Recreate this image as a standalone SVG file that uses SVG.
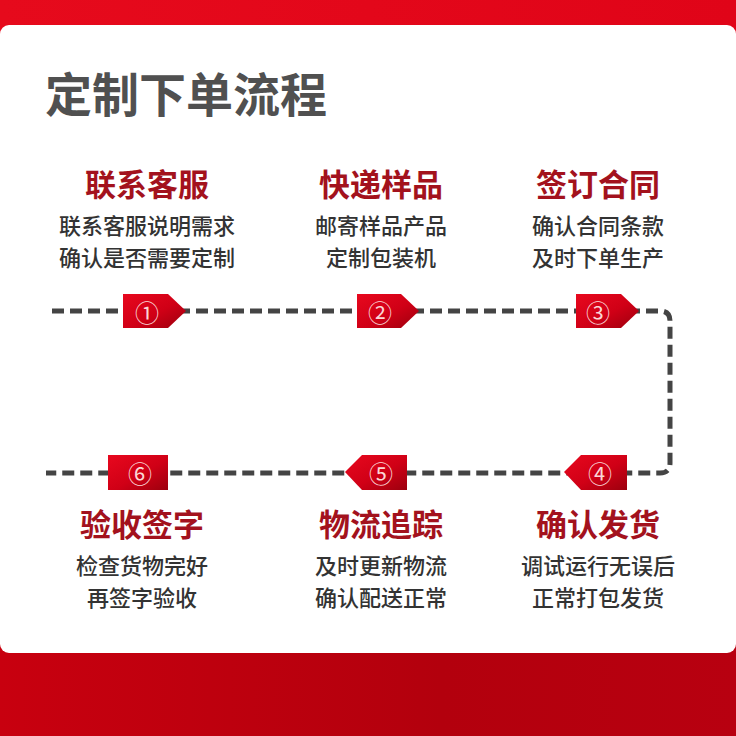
<svg xmlns="http://www.w3.org/2000/svg" width="736" height="736" viewBox="0 0 736 736">
<defs>
<linearGradient id="topRed" x1="0" y1="0" x2="1" y2="0"><stop offset="0" stop-color="#e60a1c"/><stop offset="1" stop-color="#e00418"/></linearGradient>
<linearGradient id="botRed" x1="0" y1="0" x2="1" y2="0"><stop offset="0" stop-color="#c8000f"/><stop offset="0.6" stop-color="#b3000d"/><stop offset="1" stop-color="#b80010"/></linearGradient>
<linearGradient id="badge" x1="0" y1="0" x2="1" y2="1"><stop offset="0" stop-color="#e8081e"/><stop offset="0.55" stop-color="#d00016"/><stop offset="1" stop-color="#9c000e"/></linearGradient>
<style>
.title{font-family:"Noto Sans CJK SC","Noto Sans",sans-serif;font-size:31px;font-weight:700;fill:#a3121d;text-anchor:middle}
.sub{font-family:"Noto Sans CJK SC","Noto Sans",sans-serif;font-size:22px;font-weight:500;fill:#333;text-anchor:middle}
.num{font-family:"Noto Sans CJK SC","DejaVu Sans",sans-serif;font-size:24px;fill:#fbd6d6;text-anchor:middle;dominant-baseline:central}
.badge{fill:url(#badge)}
.dash{fill:none;stroke:#444;stroke-width:5;stroke-dasharray:12 6}
</style>
</defs>
<rect x="0" y="0" width="736" height="736" fill="url(#botRed)"/>
<rect x="0" y="0" width="736" height="40" fill="url(#topRed)"/>
<rect x="0" y="25" width="736" height="628" rx="9" fill="#ffffff"/>
<text x="45" y="112" font-family="'Noto Sans CJK SC',sans-serif" font-size="47" font-weight="700" fill="#505050">定制下单流程</text>
<g id="connectors">
<path class="dash" d="M52 311 H660 Q670 311 670 321 V463 Q670 473 660 473 H46"/>
</g>
<g id="step1">
<text class="title" x="147" y="196">联系客服</text>
<text class="sub" x="147" y="234">联系客服说明需求</text>
<text class="sub" x="147" y="266">确认是否需要定制</text>
<path class="badge" d="M123 294 H168 L186 311 L168 328 H123 Z"/>
<text class="num" x="147" y="311">①</text>
</g>
<g id="step2">
<text class="title" x="381" y="196">快递样品</text>
<text class="sub" x="381" y="234">邮寄样品产品</text>
<text class="sub" x="381" y="266">定制包装机</text>
<path class="badge" d="M357 294 H401 L419 311 L401 328 H357 Z"/>
<text class="num" x="380" y="311">②</text>
</g>
<g id="step3">
<text class="title" x="598" y="196">签订合同</text>
<text class="sub" x="598" y="234">确认合同条款</text>
<text class="sub" x="598" y="266">及时下单生产</text>
<path class="badge" d="M576 294 H621 L639 311 L621 328 H576 Z"/>
<text class="num" x="598" y="311">③</text>
</g>
<g id="step4">
<text class="title" x="598" y="536">确认发货</text>
<text class="sub" x="598" y="574">调试运行无误后</text>
<text class="sub" x="598" y="606">正常打包发货</text>
<path class="badge" d="M564 472 L581 455 H627 V490 H581 Z"/>
<text class="num" x="600" y="472">④</text>
</g>
<g id="step5">
<text class="title" x="381" y="536">物流追踪</text>
<text class="sub" x="381" y="574">及时更新物流</text>
<text class="sub" x="381" y="606">确认配送正常</text>
<path class="badge" d="M345 472 L362 455 H407 V490 H362 Z"/>
<text class="num" x="381" y="472">⑤</text>
</g>
<g id="step6">
<text class="title" x="142" y="536">验收签字</text>
<text class="sub" x="142" y="574">检查货物完好</text>
<text class="sub" x="142" y="606">再签字验收</text>
<rect class="badge" x="108" y="455" width="60" height="35"/>
<text class="num" x="140" y="472">⑥</text>
</g>
</svg>
